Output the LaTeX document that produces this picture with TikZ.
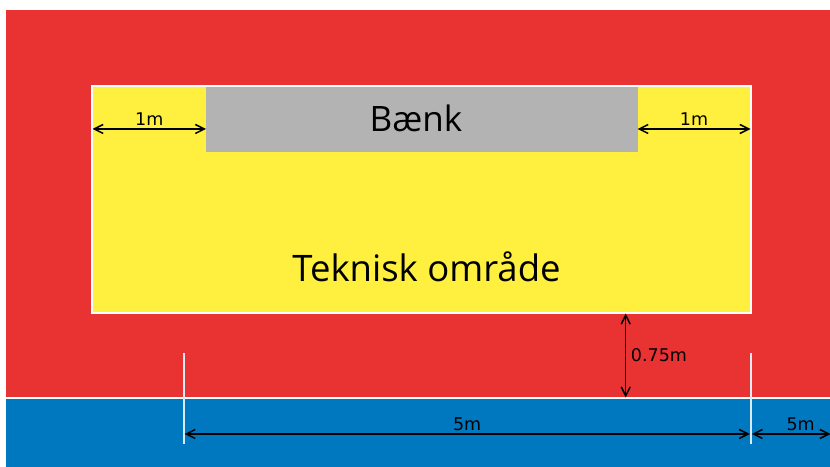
\documentclass[tikz,border=0pt]{standalone}
\usepackage{fontspec}
\setmainfont{DejaVu Sans}
\newfontfamily\signfont{Open Sans}
\usetikzlibrary{arrows.meta}
\usetikzlibrary{positioning}

\definecolor{fieldred}{RGB}{232,51,50}
\definecolor{techyellow}{RGB}{255,240,64}
\definecolor{benchgray}{RGB}{179,179,179}
\definecolor{trackblue}{RGB}{0,120,191}

\begin{document}
\begin{tikzpicture}[x=1bp,y=-1bp]
\tikzset{
    dimline/.style={line width=1.5bp,
        {Straight Barb[length=9bp,width=9bp]}-{Straight Barb[length=9bp,width=9bp]}},
    dimlabel/.style={font=\fontsize{17.5bp}{20bp}\selectfont, inner sep=2.5bp},
    bigtext/.style={font=\signfont\fontsize{35bp}{40bp}\selectfont, inner sep=0pt},
    extline/.style={draw=white!85!trackblue, line width=2bp},
}
    \useasboundingbox (0,0) rectangle (830,467);

    % field, track and technical area
    \fill[fieldred] (6,10) rectangle (830,398);
    \fill[trackblue] (6,398) rectangle (830,467);
    \draw[white, line width=1.2bp] (6,398) -- (830,398);
    \filldraw[fill=techyellow, draw=white, line width=1.2bp] (92,86) rectangle (751,313);
    \fill[benchgray] (206,87) rectangle (637.5,152);

    \node[bigtext, anchor=base] (bench) at (416,131.5) {Bænk};
    \node[bigtext, anchor=base, font=\signfont\fontsize{36.5bp}{40bp}\selectfont] (tech) at (426.5,281.5) {Teknisk område};

    % measuring points
    \coordinate (benchL1) at (92.5,129);
    \coordinate (benchL2) at (206,129);
    \coordinate (benchR1) at (637.5,129);
    \coordinate (benchR2) at (750.5,129);
    \coordinate (edge1) at (625.7,313.5);
    \coordinate (edge2) at (625.7,397.5);
    \coordinate (mark1) at (183.5,353);
    \coordinate (mark1b) at (183.5,444);
    \coordinate (mark2) at (750.7,353);
    \coordinate (mark2b) at (750.7,444);
    \coordinate (trackA) at (184.5,434);
    \coordinate (trackB) at (749.8,434);
    \coordinate (trackC) at (751.8,434);
    \coordinate (trackD) at (830.5,434);

    \draw[extline] (mark1) -- (mark1b);
    \draw[extline] (mark2) -- (mark2b);

    \draw[dimline] (benchL1) -- node[dimlabel, above] (lab1) {1m} (benchL2);
    \draw[dimline] (benchR1) -- node[dimlabel, above] (lab2) {1m} (benchR2);
    \draw[dimline] (edge1) -- node[dimlabel, right, xshift=2bp] (lab3) {0.75m} (edge2);
    \draw[dimline] (trackA) -- node[dimlabel, above] (lab4) {5m} (trackB);
    \draw[dimline] (trackC) -- node[dimlabel, above, pos=0.62] (lab5) {5m} (trackD);
\end{tikzpicture}
\end{document}
